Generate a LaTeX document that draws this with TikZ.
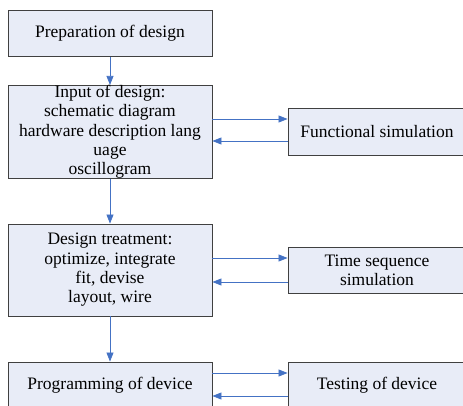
\documentclass[tikz,border=0pt]{standalone}
\usepackage{fontspec}
\setmainfont{Liberation Serif}
\usetikzlibrary{arrows.meta}
\definecolor{boxfill}{HTML}{E8ECF7}
\definecolor{boxline}{HTML}{404040}
\definecolor{arrowblue}{HTML}{4472C4}
\begin{document}
\begin{tikzpicture}[x=1pt,y=-1pt,
  box/.style={draw=boxline,fill=boxfill,line width=0.9pt,align=center,inner sep=0pt,
    font=\fontsize{17.5}{19.3}\selectfont,text=black},
  conn/.style={draw=arrowblue,line width=0.8pt,-{Triangle[length=9pt,width=7pt]}}]
\useasboundingbox (0,0) rectangle (463,405);
\clip (0,0) rectangle (463,405);
\node[box,minimum width=204,minimum height=46] (prep) at (110,33.5) {Preparation of design};
\node[box,minimum width=204,minimum height=92] (input) at (110,132) {Input of design:\\schematic diagram\\hardware description lang\\uage\\oscillogram};
\node[box,minimum width=204,minimum height=92] (treat) at (110,270) {Design treatment:\\optimize, integrate\\fit, devise\\layout, wire};
\node[box,minimum width=204,minimum height=46] (prog) at (110,385) {Programming of device};
\node[box,minimum width=178,minimum height=47] (func) at (377,131.5) {Functional simulation};
\node[box,minimum width=178,minimum height=46] (time) at (377,270) {Time sequence\\simulation};
\node[box,minimum width=178,minimum height=46] (test) at (377,385) {Testing of device};
\draw[conn] (prep) -- (input);
\draw[conn] (input) -- (treat);
\draw[conn] (treat) -- (prog);
\draw[conn] (input.east |- 0,119) -- (func.west |- 0,119);
\draw[conn] (func.west |- 0,141) -- (input.east |- 0,141);
\draw[conn] (treat.east |- 0,258) -- (time.west |- 0,258);
\draw[conn] (time.west |- 0,282) -- (treat.east |- 0,282);
\draw[conn] (prog.east |- 0,373) -- (test.west |- 0,373);
\draw[conn] (test.west |- 0,396) -- (prog.east |- 0,396);
\end{tikzpicture}
\end{document}
